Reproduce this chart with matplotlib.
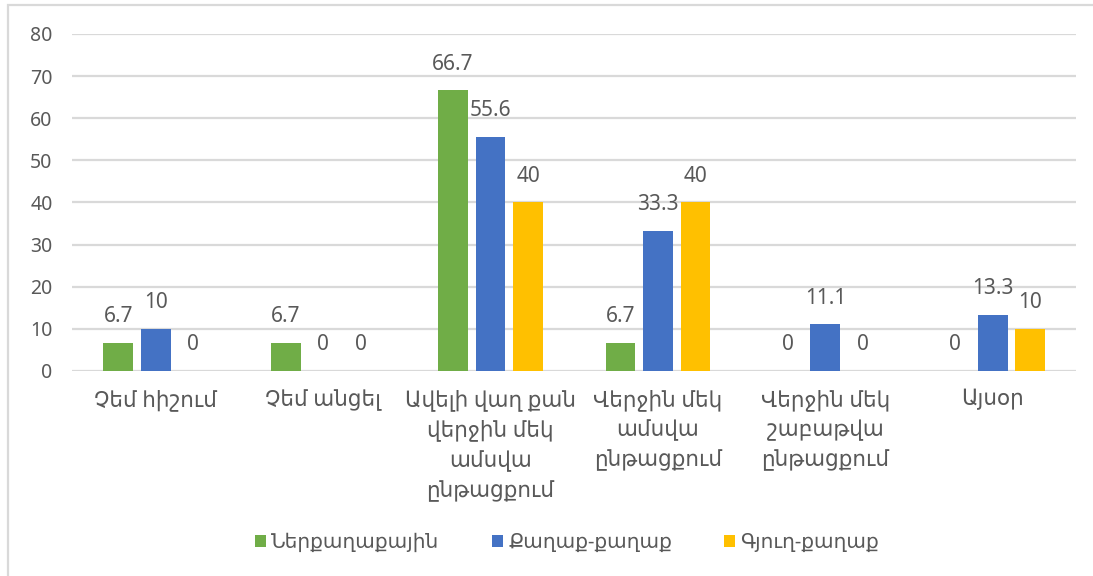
import matplotlib
matplotlib.use("Agg")
import matplotlib.pyplot as plt
import numpy as np
from matplotlib.patches import Rectangle

plt.rcParams['font.family'] = ['Noto Sans', 'DejaVu Sans']

categories = [
    "Չեմ հիշում",
    "Չեմ անցել",
    "Ավելի վաղ քան\nվերջին մեկ\nամսվա\nընթացքում",
    "Վերջին մեկ\nամսվա\nընթացքում",
    "Վերջին մեկ\nշաբաթվա\nընթացքում",
    "Այսօր",
]
series_names = ["Ներքաղաքային", "Քաղաք-քաղաք", "Գյուղ-քաղաք"]
intra_city = [6.7, 6.7, 66.7, 6.7, 0, 0]
city_city = [10, 0, 55.6, 33.3, 11.1, 13.3]
village_city = [0, 0, 40, 40, 0, 10]
yticks = [0, 10, 20, 30, 40, 50, 60, 70, 80]

colors = ["#70AD47", "#4472C4", "#FFC000"]
text_color = "#595959"
grid_color = "#D9D9D9"

fig = plt.figure(figsize=(10.93, 5.76), dpi=100)
ax = fig.add_axes([0.0659, 0.356, 0.919, 0.585])

x = np.arange(len(categories))
width = 0.178
step = 0.224
series = [intra_city, city_city, village_city]
for i, (vals, name, col) in enumerate(zip(series, series_names, colors)):
    pos = x + (i - 1) * step
    ax.bar(pos, vals, width=width, color=col, label=name, zorder=3)
    for px, v in zip(pos, vals):
        ax.annotate(f"{v:g}", xy=(px, v), xytext=(0, 26),
                    textcoords="offset pixels", ha="center", va="center",
                    fontsize=15, color=text_color, zorder=4)

ax.set_xlim(-0.5, len(categories) - 0.5)
ax.set_ylim(0, 80)
ax.set_yticks(yticks)
ax.set_yticklabels([str(t) for t in yticks], fontsize=14, color=text_color)
ax.set_xticks(x)
ax.set_xticklabels(categories, fontsize=15.5, color=text_color, linespacing=1.52)
ax.tick_params(axis="both", length=0)
ax.tick_params(axis="y", pad=14)
ax.tick_params(axis="x", pad=13)
ax.yaxis.grid(True, color=grid_color, linewidth=1.6, zorder=0)
ax.set_axisbelow(True)
for s in ax.spines.values():
    s.set_visible(False)

leg = fig.legend(loc="center", bbox_to_anchor=(0.519, 0.057), ncol=3,
                 frameon=False, fontsize=14.5, handlelength=0.55, handleheight=0.55,
                 handletextpad=0.25, columnspacing=2.6)
for t in leg.get_texts():
    t.set_color(text_color)

# outer chart frame
fig.patches.append(Rectangle((8 / 1093, -0.1), 1.2, 1.1 - 5 / 576,
                             transform=fig.transFigure, fill=False,
                             edgecolor=grid_color, linewidth=1.6))

fig.savefig("out.png", dpi=100)
